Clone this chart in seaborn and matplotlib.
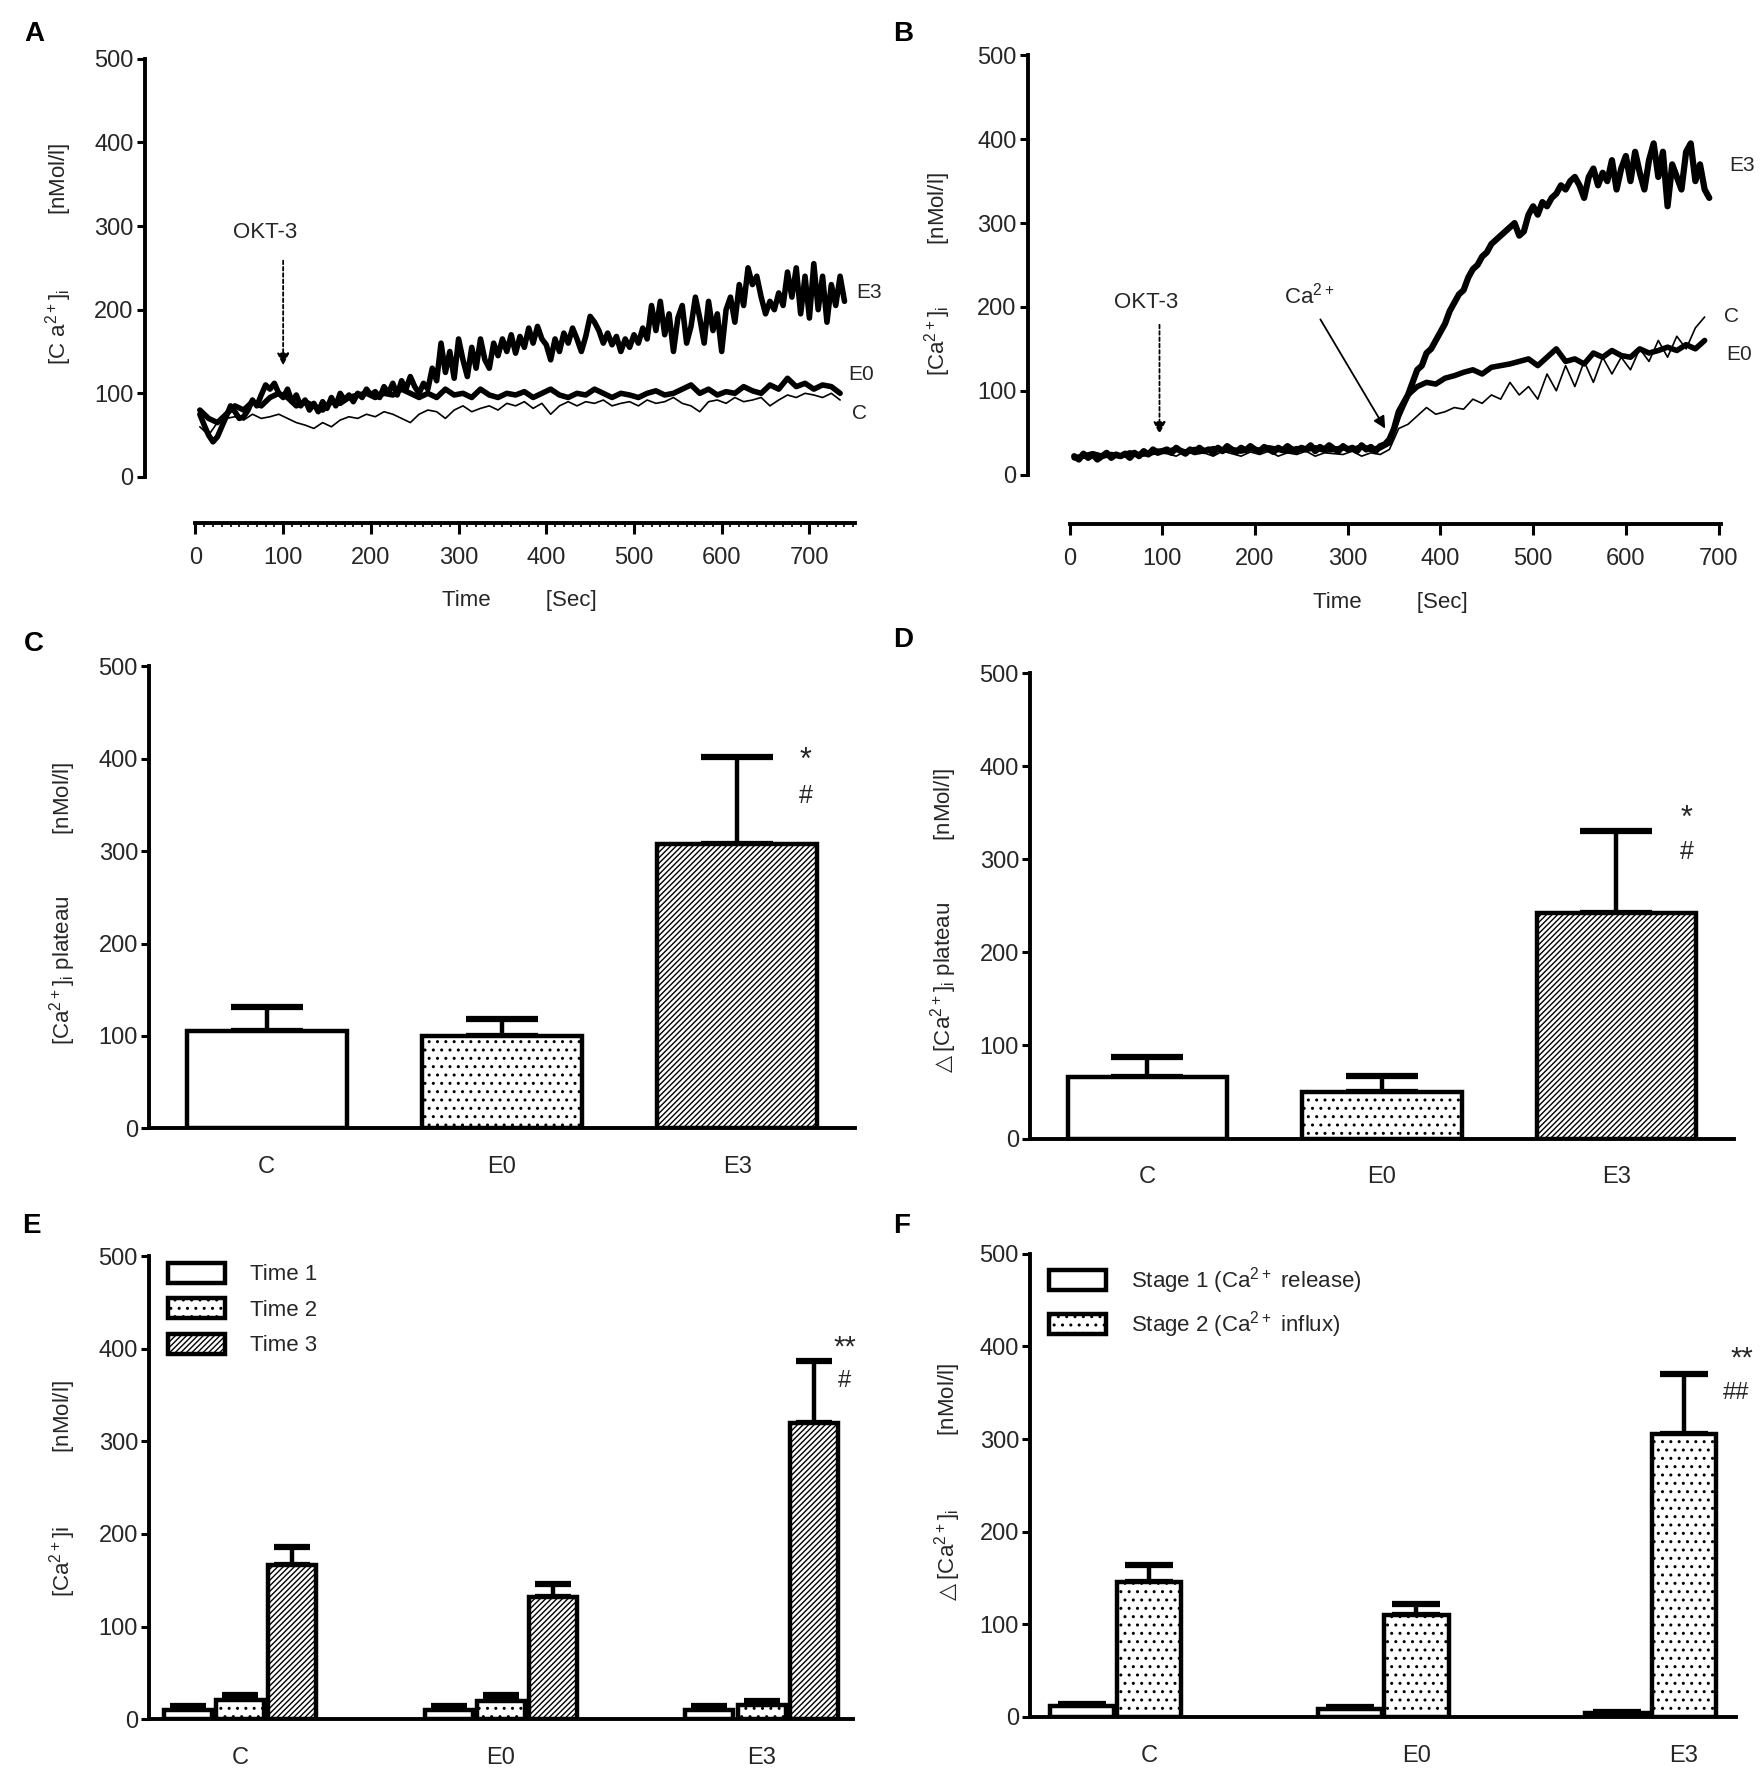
import numpy as np
import pandas as pd
import matplotlib
matplotlib.use('Agg')
import matplotlib.pyplot as plt
import seaborn as sns
from matplotlib.patches import Patch

sns.set_theme(style='white')
plt.rcParams['font.family'] = ['Liberation Sans Narrow', 'Liberation Sans', 'DejaVu Sans']
plt.rcParams['hatch.linewidth'] = 1.0
plt.rcParams['hatch.color'] = 'black'

TXT = '#262626'

# ---------------- data: panel A (OKT-3 without extracellular change) ----------------
a_t_e3 = np.arange(5, 745, 5)
a_e3 = [75, 62, 50, 42, 48, 60, 72, 85, 78, 70,
        72, 80, 92, 85, 98, 110, 105, 112, 100, 95,
        105, 90, 98, 85, 92, 80, 88, 78, 90, 82,
        95, 85, 100, 92, 98, 90, 100, 95, 105, 98,
        102, 95, 108, 100, 112, 98, 115, 105, 120, 108,
        100, 112, 105, 130, 115, 160, 125, 150, 118, 165,
        140, 120, 155, 130, 165, 140, 130, 160, 145, 165,
        150, 170, 148, 168, 155, 178, 160, 180, 165, 158,
        140, 165, 150, 172, 160, 178, 165, 150, 168, 192,
        185, 175, 160, 172, 158, 168, 150, 165, 155, 170,
        160, 178, 165, 205, 175, 210, 170, 195, 150, 190,
        205, 160, 180, 215, 190, 160, 210, 175, 195, 150,
        200, 215, 185, 230, 205, 250, 230, 240, 215, 195,
        210, 200, 220, 205, 245, 215, 250, 195, 240, 190,
        255, 200, 240, 185, 230, 205, 240, 210]
a_t_slow = np.arange(5, 745, 10)
a_e0 = [80, 70, 65, 75, 85, 80, 90, 85, 95, 100,
        95, 85, 90, 85, 80, 90, 88, 95, 98, 100,
        95, 100, 98, 105, 100, 95, 100, 95, 105, 98,
        100, 95, 105, 98, 95, 100, 98, 102, 95, 100,
        105, 98, 95, 100, 98, 105, 100, 95, 100, 98,
        95, 100, 103, 98, 100, 105, 110, 100, 105, 98,
        102, 100, 108, 103, 100, 110, 105, 118, 108, 112,
        105, 110, 108, 100]
a_c = [60, 50, 65, 70, 72, 68, 75, 70, 72, 75,
       70, 65, 62, 58, 65, 60, 68, 72, 70, 75,
       72, 78, 75, 70, 65, 75, 80, 78, 70, 80,
       85, 78, 82, 85, 80, 88, 85, 90, 82, 88,
       75, 85, 90, 85, 90, 88, 92, 85, 88, 90,
       85, 92, 88, 90, 95, 88, 85, 78, 90, 92,
       88, 95, 90, 92, 95, 85, 92, 98, 95, 100,
       98, 95, 100, 92]

# ---------------- data: panel B (OKT-3 then Ca2+ re-addition) ----------------
b_t_e3 = np.arange(5, 695, 5)
b_e3 = [22, 18, 25, 20, 24, 18, 22, 26, 20, 24,
        22, 25, 20, 26, 22, 28, 24, 30, 26, 28,
        30, 26, 32, 28, 25, 30, 27, 32, 28, 30,
        26, 32, 28, 34, 30, 27, 32, 29, 34, 30,
        28, 33, 30, 27, 32, 29, 34, 30, 28, 32,
        30, 35, 28, 33, 30, 35, 31, 28, 34, 30,
        32, 28, 35, 30, 33, 28, 34, 36, 42, 55,
        75, 85, 95, 110, 125, 130, 145, 150, 160, 170,
        180, 195, 205, 215, 220, 235, 245, 250, 260, 265,
        275, 280, 285, 290, 295, 300, 285, 290, 310, 320,
        310, 325, 320, 330, 335, 345, 340, 350, 355, 345,
        330, 355, 365, 345, 360, 350, 375, 340, 365, 380,
        350, 385, 360, 340, 375, 395, 355, 385, 320, 370,
        355, 340, 385, 395, 350, 370, 340, 330]
b_t_slow = np.arange(5, 695, 10)
b_e0 = [20, 22, 25, 22, 24, 22, 26, 24, 25, 28,
        28, 30, 27, 30, 28, 31, 29, 30, 28, 31,
        29, 32, 30, 28, 31, 30, 32, 29, 30, 32,
        30, 33, 30, 32, 38, 70, 95, 105, 110, 108,
        115, 118, 122, 125, 120, 128, 130, 132, 135, 138,
        130, 140, 150, 135, 138, 132, 145, 140, 148, 142,
        140, 150, 145, 148, 152, 148, 155, 150, 160]
b_c = [22, 20, 25, 22, 20, 24, 22, 25, 23, 26,
       25, 22, 28, 24, 26, 22, 28, 25, 22, 27,
       24, 28, 22, 26, 24, 28, 22, 26, 25, 24,
       28, 22, 26, 24, 30, 55, 60, 70, 80, 72,
       75, 80, 78, 90, 85, 95, 90, 110, 95, 105,
       90, 120, 100, 130, 105, 135, 110, 140, 120, 140,
       125, 150, 135, 160, 140, 165, 150, 175, 188]

# ---------------- data: bar panels ----------------
groups = ['C', 'E0', 'E3']
c_plateau = [105, 100, 308]
c_sem = [26, 18, 94]
d_delta = [66, 50, 242]
d_sem = [22, 17, 88]

times = ['Time 1', 'Time 2', 'Time 3']
e_vals = {'Time 1': [10, 10, 10], 'Time 2': [21, 20, 15], 'Time 3': [166, 132, 320]}
e_sem = {'Time 1': [4, 4, 4], 'Time 2': [5, 6, 5], 'Time 3': [20, 14, 67]}

stages = ['Stage 1 (Ca$\\mathregular{^{2+}}$ release)', 'Stage 2 (Ca$\\mathregular{^{2+}}$ influx)']
f_vals = {stages[0]: [12, 9, 4], stages[1]: [146, 110, 305]}
f_sem = {stages[0]: [2, 2, 1], stages[1]: [18, 12, 65]}

# ---------------- layout ----------------
fig = plt.figure(figsize=(17.62, 17.79), dpi=100)


def box(l, r, t, b):
    return [l / 1560, 1 - b / 1575, (r - l) / 1560, (b - t) / 1575]


def style_axis(ax, ylab_x, ylab_y, ylabel):
    ax.set_facecolor('white')
    for s in ['top', 'right']:
        ax.spines[s].set_visible(False)
    for s in ['left', 'bottom']:
        ax.spines[s].set_color('black')
        ax.spines[s].set_linewidth(2.8)
    ax.set_yticks(range(0, 501, 100))
    ax.tick_params(axis='y', direction='out', length=6, width=2.2, color='black',
                   labelsize=17, labelcolor=TXT, pad=2, left=True)
    ax.set_ylabel('')
    ax.set_xlabel('')
    fig.text(ylab_x / 1560, 1 - ylab_y / 1575, ylabel, rotation=90, ha='center', va='center',
             fontsize=16, color=TXT)
    ax.grid(False)


def panel_letter(x, y, s):
    fig.text(x / 1560, 1 - y / 1575, s, fontsize=20, fontweight='bold',
             family=['Liberation Sans', 'DejaVu Sans'], ha='center', va='center', color='black')


# ---------- A ----------
axA = fig.add_axes(box(128, 757, 52, 463))
sns.lineplot(x=a_t_slow, y=a_c, ax=axA, color='black', lw=1.2, estimator=None, sort=False)
sns.lineplot(x=a_t_slow, y=a_e0, ax=axA, color='black', lw=4, estimator=None, sort=False)
sns.lineplot(x=a_t_e3, y=a_e3, ax=axA, color='black', lw=4, estimator=None, sort=False)
axA.set_xlim(-58, 752)
axA.set_ylim(-55, 500)
style_axis(axA, 52, 225, '[C a$\\mathregular{^{2+}}$]$\\mathregular{_i}$            [nMol/l]')
axA.spines['left'].set_bounds(0, 500)
axA.spines['bottom'].set_bounds(0, 752)
axA.set_xticks(range(0, 701, 100))
axA.set_xticks(range(0, 751, 10), minor=True)
axA.tick_params(axis='x', which='major', direction='out', length=8, width=2.2, color='black',
                labelsize=17, labelcolor=TXT, pad=9, bottom=True)
axA.tick_params(axis='x', which='minor', direction='out', length=3, width=1.2, color='black', bottom=True)
axA.set_xlabel('Time         [Sec]', fontsize=16, color=TXT)
axA.xaxis.set_label_coords(0.528, -0.145)
axA.annotate('', xy=(100, 130), xytext=(100, 262),
             arrowprops=dict(arrowstyle='-|>', color='black', lw=1.3, ls=(0, (2, 1.5)), mutation_scale=18))
axA.text(80, 292, 'OKT-3', fontsize=16, color=TXT, ha='center', va='center')
axA.text(753, 221, 'E3', fontsize=15, color=TXT, ha='left', va='center', clip_on=False)
axA.text(744, 122, 'E0', fontsize=15, color=TXT, ha='left', va='center', clip_on=False)
axA.text(748, 76, 'C', fontsize=15, color=TXT, ha='left', va='center', clip_on=False)
panel_letter(30, 30, 'A')

# ---------- B ----------
axB = fig.add_axes(box(910, 1524, 49, 464))
sns.lineplot(x=b_t_slow, y=b_c, ax=axB, color='black', lw=1.2, estimator=None, sort=False)
sns.lineplot(x=b_t_slow, y=b_e0, ax=axB, color='black', lw=4, estimator=None, sort=False)
sns.lineplot(x=b_t_e3, y=b_e3, ax=axB, color='black', lw=4.5, estimator=None, sort=False)
axB.set_xlim(-45, 703)
axB.set_ylim(-59, 500)
style_axis(axB, 830, 243, '[Ca$\\mathregular{^{2+}}$]$\\mathregular{_i}$          [nMol/l]')
axB.spines['left'].set_bounds(0, 500)
axB.spines['bottom'].set_bounds(0, 703)
axB.set_xticks(range(0, 701, 100))
axB.tick_params(axis='x', direction='out', length=8, width=2.2, color='black',
                labelsize=17, labelcolor=TXT, pad=9, bottom=True)
axB.set_xlabel('Time         [Sec]', fontsize=16, color=TXT)
axB.xaxis.set_label_coords(0.523, -0.145)
axB.annotate('', xy=(97, 45), xytext=(97, 182),
             arrowprops=dict(arrowstyle='-|>', color='black', lw=1.3, ls=(0, (2, 1.5)), mutation_scale=18))
axB.text(83, 205, 'OKT-3', fontsize=16, color=TXT, ha='center', va='center')
axB.annotate('', xy=(342, 52), xytext=(269, 188),
             arrowprops=dict(arrowstyle='-|>', color='black', lw=1.3, mutation_scale=18))
axB.text(259, 213, 'Ca$\\mathregular{^{2+}}$', fontsize=16, color=TXT, ha='center', va='center')
axB.text(712, 369, 'E3', fontsize=15, color=TXT, ha='left', va='center', clip_on=False)
axB.text(706, 188, 'C', fontsize=15, color=TXT, ha='left', va='center', clip_on=False)
axB.text(708, 143, 'E0', fontsize=15, color=TXT, ha='left', va='center', clip_on=False)
panel_letter(800, 30, 'B')


# ---------- simple bar panels (C, D) ----------
def simple_bars(ax, vals, sems, ylabel, lab_x, lab_y):
    sns.barplot(x=groups, y=vals, ax=ax, color='white', edgecolor='black', linewidth=3.2,
                width=0.68, saturation=1)
    for bar, h in zip(ax.containers[0], ['', '..', '//////']):
        bar.set_hatch(h)
        bar.set_facecolor('white')
    xs = [b.get_x() + b.get_width() / 2 for b in ax.containers[0]]
    ax.errorbar(xs, vals, yerr=[np.zeros(len(vals)), sems], fmt='none', ecolor='black',
                elinewidth=3.2, capsize=26, capthick=4.5, zorder=0.5)
    ax.set_xlim(-0.5, 2.5)
    ax.set_ylim(0, 500)
    style_axis(ax, lab_x, lab_y, ylabel)
    ax.tick_params(axis='x', length=0, labelsize=17, labelcolor=TXT, pad=20)


DELTA = '$\\triangle$'

axC = fig.add_axes(box(132, 757, 590, 999))
simple_bars(axC, c_plateau, c_sem, '[Ca$\\mathregular{^{2+}}$]$\\mathregular{_i}$ plateau          [nMol/l]', 55, 800)
axC.text(2.29, 398, '*', fontsize=22, color=TXT, ha='center', va='center')
axC.text(2.29, 360, '#', fontsize=18, color=TXT, ha='center', va='center')
panel_letter(30, 570, 'C')

axD = fig.add_axes(box(912, 1535, 596, 1008))
simple_bars(axD, d_delta, d_sem, DELTA + '[Ca$\\mathregular{^{2+}}$]$\\mathregular{_i}$ plateau          [nMol/l]', 835, 817)
axD.text(2.3, 343, '*', fontsize=22, color=TXT, ha='center', va='center')
axD.text(2.3, 308, '#', fontsize=18, color=TXT, ha='center', va='center')
panel_letter(800, 567, 'D')


# ---------- grouped bar panels (E, F) ----------
def grouped_bars(ax, levels, vals, sems, hatches, width, gap, capsize, leg_y):
    rows = []
    for lv in levels:
        for g, v in zip(groups, vals[lv]):
            rows.append({'group': g, 'level': lv, 'value': v})
    df = pd.DataFrame(rows)
    sns.barplot(data=df, x='group', y='value', hue='level', hue_order=levels, order=groups,
                palette=['white'] * len(levels), edgecolor='black', linewidth=3.2,
                width=width, gap=gap, saturation=1, legend=False, ax=ax)
    for cont, lv, h in zip(ax.containers, levels, hatches):
        xs = []
        for bar in cont:
            bar.set_hatch(h)
            bar.set_facecolor('white')
            xs.append(bar.get_x() + bar.get_width() / 2)
        ax.errorbar(xs, vals[lv], yerr=[np.zeros(3), sems[lv]], fmt='none', ecolor='black',
                    elinewidth=3.2, capsize=capsize, capthick=4.5, zorder=0.5)
    handles = [Patch(facecolor='white', edgecolor='black', linewidth=3.2, hatch=h) for h in hatches]
    ax.legend(handles, levels, loc='upper left', bbox_to_anchor=(0.02, leg_y), frameon=False,
              fontsize=16, handlelength=2.6, handleheight=1.0, labelspacing=0.58,
              handletextpad=1.1, borderaxespad=0, borderpad=0.2, labelcolor=TXT)


axE = fig.add_axes(box(132, 755, 1112, 1522))
grouped_bars(axE, times, e_vals, e_sem, ['', '..', '//////'], 0.6, 0.08, 13, 0.995)
axE.set_xlim(-0.35, 2.35)
axE.set_ylim(0, 500)
style_axis(axE, 55, 1318, '[Ca$\\mathregular{^{2+}}$]i            [nMol/l]')
axE.tick_params(axis='x', length=0, labelsize=17, labelcolor=TXT, pad=20)
axE.text(2.32, 401, '**', fontsize=21, color=TXT, ha='center', va='center')
axE.text(2.32, 365, '#', fontsize=17, color=TXT, ha='center', va='center')
panel_letter(28, 1085, 'E')

axF = fig.add_axes(box(912, 1537, 1110, 1520))
grouped_bars(axF, stages, f_vals, f_sem, ['', '..'], 0.5, 0.04, 17, 0.985)
axF.set_xlim(-0.32, 2.32)
axF.set_ylim(0, 500)
style_axis(axF, 839, 1314, DELTA + '[Ca$\\mathregular{^{2+}}$]$\\mathregular{_i}$            [nMol/l]')
axF.set_xticks([0.125, 1.125, 2.125])
axF.set_xticklabels(groups)
axF.tick_params(axis='x', length=0, labelsize=17, labelcolor=TXT, pad=20)
axF.text(2.34, 387, '**', fontsize=21, color=TXT, ha='center', va='center', clip_on=False)
axF.text(2.32, 350, '##', fontsize=17, color=TXT, ha='center', va='center', clip_on=False)
panel_letter(798, 1085, 'F')

fig.savefig('out.png', dpi=100, facecolor='white')
